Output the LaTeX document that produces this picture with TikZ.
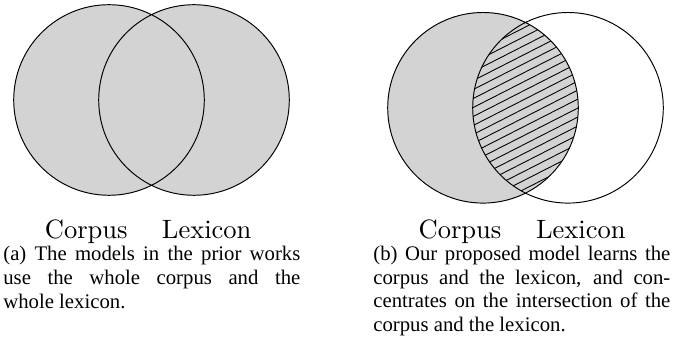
\documentclass[tikz,border=0pt]{standalone}
\usepackage{fontspec}
\newfontfamily\captionserif{Liberation Serif}
\newfontfamily\labelserif{lmroman10-regular.otf}
\definecolor{setgray}{RGB}{211,211,211}
\tikzset{
  setline/.style={line width=0.55pt},
  hatchline/.style={line width=0.5pt},
  setlabel/.style={anchor=base, inner sep=0pt, font=\labelserif\fontsize{15.1}{18}\selectfont},
  subcaption/.style={anchor=base west, inner sep=0pt, text width=5.94cm, align=justify, font=\captionserif\fontsize{11.8}{13.4}\selectfont},
}
\begin{document}
\begin{tikzpicture}[line join=round, line cap=round]
	\useasboundingbox (0,0) rectangle (13.6,6.82);
	\def\setradius{1.906}
	\coordinate (CA) at (2.18,4.82);
	\coordinate (LA) at (3.88,4.82);
	\coordinate (CB) at (9.66,4.664);
	\coordinate (LB) at (11.36,4.664);
	\coordinate (M) at (10.51,4.664);
	\fill[setgray] (CA) circle (\setradius) (LA) circle (\setradius);
	\draw[setline] (CA) circle (\setradius) (LA) circle (\setradius);
	\fill[setgray] (CB) circle (\setradius);
	\begin{scope}
		\clip (CB) circle (\setradius);
		\clip (LB) circle (\setradius);
		\begin{scope}[shift={(M)}, rotate=27]
			\foreach \k in {-13,...,13}
				\draw[hatchline] (-2.5,\k*0.16) -- (2.5,\k*0.16);
		\end{scope}
	\end{scope}
	\draw[setline] (CB) circle (\setradius) (LB) circle (\setradius);
	\node[setlabel] (corpusA) at (1.726,2.04) {Corpus};
	\node[setlabel] (lexiconA) at (4.134,2.04) {Lexicon};
	\node[setlabel] (corpusB) at (9.2,2.05) {Corpus};
	\node[setlabel] (lexiconB) at (11.616,2.05) {Lexicon};
	\node[subcaption] (capA) at (0.06,1.6) {(a) The models in the prior works\linebreak use the whole corpus and the\linebreak whole lexicon.};
	\node[subcaption] (capB) at (7.46,1.606) {(b) Our proposed model learns the\linebreak corpus and the lexicon, and con-\linebreak centrates on the intersection of the\linebreak corpus and the lexicon.};
\end{tikzpicture}
\end{document}
